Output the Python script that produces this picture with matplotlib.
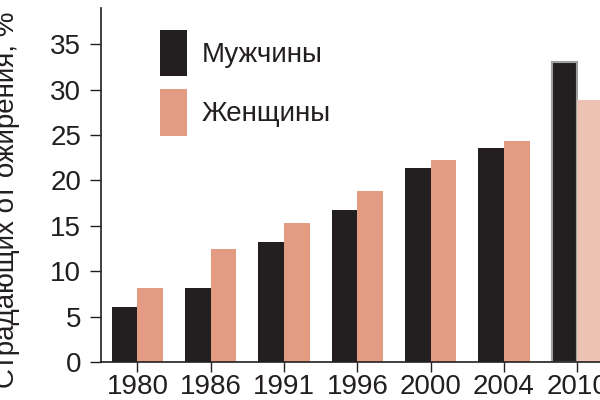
import matplotlib
matplotlib.use("Agg")
import matplotlib.pyplot as plt
import numpy as np

plt.rcParams['font.family'] = ['Liberation Sans', 'DejaVu Sans']

years = ['1980', '1986', '1991', '1996', '2000', '2004', '2010']
men = [6.1, 8.2, 13.2, 16.8, 21.4, 23.6, 33.0]
women = [8.2, 12.4, 15.3, 18.8, 22.2, 24.3, 28.9]
labels = ['Мужчины', 'Женщины']

ink = '#231f20'
pink = '#e39c82'
pink_light = '#ebc2b3'
fs = 20

fig = plt.figure(figsize=(6, 4), dpi=100)
ax = fig.add_axes([0.168, 0.095, 0.832, 0.885])

x = np.arange(len(years))
w = 0.35
# last group (2010) is drawn a bit differently in the source
men_edge = ['none'] * (len(years) - 1) + ['#a0a0a0']
women_col = [pink] * (len(years) - 1) + [pink_light]

b1 = ax.bar(x - w / 2, men, w, color=ink, edgecolor=men_edge, linewidth=1.5, label=labels[0])
b2 = ax.bar(x + w / 2, women, w, color=women_col, linewidth=0, label=labels[1])

ax.set_xlim(-0.5, 6.31)
ax.set_ylim(0, 39)
ax.set_yticks(range(0, 40, 5))
ax.set_xticks(x)
ax.set_xticklabels(years)

for s in ['top', 'right']:
    ax.spines[s].set_visible(False)
for s in ['left', 'bottom']:
    ax.spines[s].set_color(ink)
    ax.spines[s].set_linewidth(1.2)
ax.tick_params(axis='y', length=8, width=1, color=ink, labelsize=fs, labelcolor=ink, pad=6)
ax.tick_params(axis='x', length=7, width=1, color=ink, labelsize=fs, labelcolor=ink, pad=2)

leg = ax.legend(handles=[b1.patches[0], b2.patches[0]], labels=labels,
                loc='upper left', bbox_to_anchor=(0.118, 0.938), frameon=False,
                borderpad=0, borderaxespad=0, handlelength=0.97, handleheight=2.2,
                handletextpad=0.55, labelspacing=0.45, fontsize=fs)
for t in leg.get_texts():
    t.set_color(ink)

fig.text(0.012, 0.5, 'Страдающих от ожирения, %', rotation=90, ha='center', va='center',
         fontsize=fs, color=ink)

fig.savefig('out.png', dpi=100)
